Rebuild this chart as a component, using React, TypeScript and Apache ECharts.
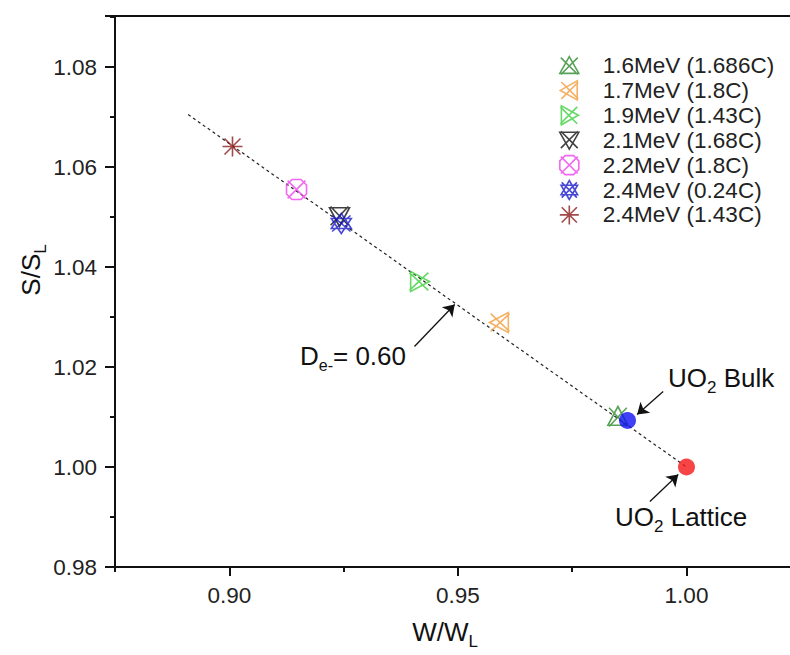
import React, { useEffect, useRef } from 'react';
import * as echarts from 'echarts';

// ---- data ----
const seriesNames = [
  '1.6MeV (1.686C)',
  '1.7MeV (1.8C)',
  '1.9MeV (1.43C)',
  '2.1MeV (1.68C)',
  '2.2MeV (1.8C)',
  '2.4MeV (0.24C)',
  '2.4MeV (1.43C)',
];
const seriesX = [0.985, 0.9591, 0.9416, 0.9241, 0.9147, 0.9245, 0.9007];
const seriesY = [1.0101, 1.0289, 1.0371, 1.0501, 1.0555, 1.0487, 1.0641];
const seriesColors = ['#2e8b2e', '#f39c3c', '#3ecf3e', '#111111', '#ee44ee', '#1a1acc', '#8b1c1c'];
const seriesSymbols = [
  'path://M2 2L18 18M18 2L2 18M10 1L19 17L1 17Z',
  'path://M2 2L18 18M18 2L2 18M1 10L17 1L17 19Z',
  'path://M2 2L18 18M18 2L2 18M19 10L3 1L3 19Z',
  'path://M2 2L18 18M18 2L2 18M1 3L19 3L10 19Z',
  'path://M2 2L18 18M18 2L2 18M6 1L14 1L19 6L19 14L14 19L6 19L1 14L1 6Z',
  'path://M2 2L18 18M18 2L2 18M10 0L18.7 15L1.3 15ZM10 20L1.3 5L18.7 5Z',
  'path://M2 2L18 18M18 2L2 18M10 0L10 20M0 10L20 10',
];
const bulkPoint = [0.9871, 1.0093];
const latticePoint = [1.0, 1.0];
const fitLineX = [0.891, 1.0];
const fitLineY = [1.0705, 1.0];
const arrowsFrom = [
  [0.9405, 1.0241],
  [0.9949, 1.0151],
  [0.992, 0.9931],
];
const arrowsTo = [
  [0.9493, 1.0325],
  [0.9892, 1.0105],
  [0.9982, 0.9985],
];
const xTicks = [0.9, 0.95, 1.0];
const xMinorTicks = [0.875, 0.925, 0.975];
const xRange = [0.875, 1.02264];
const yRange = [0.98, 1.0902];
const yInterval = 0.02;

const FONT = "'Liberation Sans', Arial, sans-serif";

export default function App() {
  const ref = useRef<HTMLDivElement>(null);
  useEffect(() => {
    if (!ref.current) return;
    const chart = echarts.init(ref.current, undefined, { renderer: 'svg' });

    const scatterSeries = seriesNames.map((name, i) => ({
      name,
      type: 'scatter',
      xAxisIndex: 0,
      yAxisIndex: 0,
      symbol: seriesSymbols[i],
      symbolSize: 20,
      itemStyle: { color: 'rgba(0,0,0,0)', borderColor: seriesColors[i], borderWidth: 1.6 },
      data: [[seriesX[i], seriesY[i]]],
      z: 3,
    }));

    const sub = (fs: number, pad: number) => ({ fontSize: fs, padding: [pad, 0, 0, 0], fontFamily: FONT, fill: '#111' });

    const option: any = {
      animation: false,
      backgroundColor: '#ffffff',
      grid: { left: 115, right: 0, top: 16, bottom: 88, containLabel: false },
      xAxis: [
        {
          type: 'value',
          min: xRange[0],
          max: xRange[1],
          position: 'bottom',
          axisLine: { show: true, onZero: false, lineStyle: { color: '#111', width: 2 } },
          axisTick: { show: true, customValues: xTicks, length: 9, inside: false, lineStyle: { color: '#111', width: 2 } },
          axisLabel: {
            show: true,
            customValues: xTicks,
            formatter: (v: number) => v.toFixed(2),
            fontSize: 22.5,
            color: '#222',
            fontFamily: FONT,
            margin: 17,
          },
          splitLine: { show: false },
        },
        {
          type: 'value',
          min: xRange[0],
          max: xRange[1],
          position: 'bottom',
          axisLine: { show: false, onZero: false },
          axisTick: { show: true, customValues: xMinorTicks, length: 5, lineStyle: { color: '#111', width: 2 } },
          axisLabel: { show: false },
          splitLine: { show: false },
        },
        {
          type: 'value',
          min: xRange[0],
          max: xRange[1],
          position: 'top',
          axisLine: { show: true, onZero: false, lineStyle: { color: '#111', width: 2 } },
          axisTick: { show: false },
          axisLabel: { show: false },
          splitLine: { show: false },
        },
      ],
      yAxis: [
        {
          type: 'value',
          min: yRange[0],
          max: yRange[1],
          interval: yInterval,
          position: 'left',
          axisLine: { show: true, onZero: false, lineStyle: { color: '#111', width: 2 } },
          axisTick: { show: true, length: 10, lineStyle: { color: '#111', width: 2 } },
          minorTick: { show: true, splitNumber: 2, length: 5, lineStyle: { color: '#111', width: 2 } },
          axisLabel: {
            formatter: (v: number) => v.toFixed(2),
            fontSize: 22.5,
            color: '#222',
            fontFamily: FONT,
            margin: 18,
            showMaxLabel: false,
          },
          splitLine: { show: false },
          minorSplitLine: { show: false },
        },
      ],
      legend: {
        show: true,
        orient: 'vertical',
        left: 559,
        top: 54,
        itemWidth: 19,
        itemHeight: 19,
        itemGap: 1.9,
        padding: 0,
        selectedMode: false,
        textStyle: { fontSize: 22.5, color: '#222', fontFamily: FONT, lineHeight: 20, padding: [0, 0, 0, 19] },
        data: seriesNames.map((name, i) => ({
          name,
          icon: seriesSymbols[i],
          itemStyle: { color: 'rgba(0,0,0,0)', borderColor: seriesColors[i], borderWidth: 1.6 },
        })),
      },
      series: [
        ...scatterSeries,
        {
          name: 'fit',
          type: 'line',
          data: fitLineX.map((x, i) => [x, fitLineY[i]]),
          showSymbol: false,
          symbol: 'none',
          lineStyle: { color: '#222', width: 1.2, type: [3, 3] },
          z: 2,
          silent: true,
          markLine: {
            silent: true,
            symbol: ['none', 'arrow'],
            symbolSize: 11,
            label: { show: false },
            lineStyle: { color: '#111', width: 1.3, type: 'solid' },
            data: arrowsFrom.map((f, i) => [{ coord: f }, { coord: arrowsTo[i] }]),
          },
        },
        {
          name: 'UO2 Bulk',
          type: 'scatter',
          symbol: 'circle',
          symbolSize: 17,
          itemStyle: { color: '#1010f5' },
          data: [bulkPoint],
          z: 4,
        },
        {
          name: 'UO2 Lattice',
          type: 'scatter',
          symbol: 'circle',
          symbolSize: 17,
          itemStyle: { color: '#f51515' },
          data: [latticePoint],
          z: 4,
        },
      ],
      graphic: [
        {
          type: 'text',
          x: 445,
          y: 632,
          style: {
            text: '{m|W/W}{s|L}',
            align: 'center',
            verticalAlign: 'middle',
            rich: { m: { fontSize: 26, fontFamily: FONT, fill: '#111' }, s: sub(17, 18) },
          },
        },
        {
          type: 'text',
          x: 31,
          y: 270,
          rotation: Math.PI / 2,
          style: {
            text: '{m|S/S}{s|L}',
            align: 'center',
            verticalAlign: 'middle',
            rich: { m: { fontSize: 26, fontFamily: FONT, fill: '#111' }, s: sub(17, 18) },
          },
        },
        {
          type: 'text',
          x: 300,
          y: 356,
          style: {
            text: '{m|D}{s|e-}{m|= 0.60}',
            align: 'left',
            verticalAlign: 'middle',
            rich: { m: { fontSize: 26, fontFamily: FONT, fill: '#111' }, s: sub(16, 18) },
          },
        },
        {
          type: 'text',
          x: 668,
          y: 378,
          style: {
            text: '{m|UO}{s|2}{m| Bulk}',
            align: 'left',
            verticalAlign: 'middle',
            rich: { m: { fontSize: 26, fontFamily: FONT, fill: '#111' }, s: sub(17, 18) },
          },
        },
        {
          type: 'text',
          x: 615,
          y: 517,
          style: {
            text: '{m|UO}{s|2}{m| Lattice}',
            align: 'left',
            verticalAlign: 'middle',
            rich: { m: { fontSize: 26, fontFamily: FONT, fill: '#111' }, s: sub(17, 18) },
          },
        },
      ],
    };

    chart.setOption(option);
    return () => chart.dispose();
  }, []);

  return <div ref={ref} style={{ width: 790, height: 655, position: 'absolute', left: 0, top: 0 }} />;
}
